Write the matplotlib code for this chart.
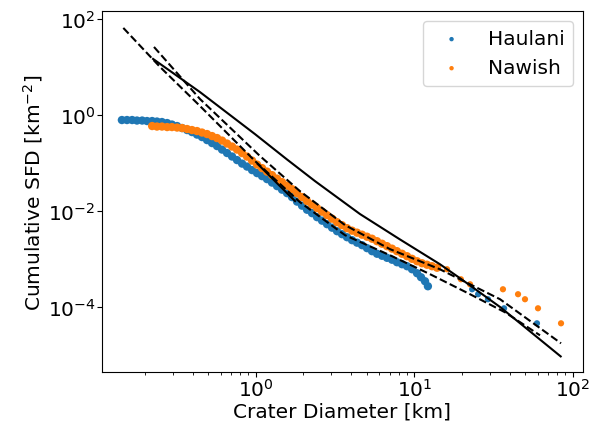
import matplotlib
matplotlib.use("Agg")
import matplotlib.pyplot as plt
from matplotlib.ticker import FixedLocator, NullLocator

# Haulani crater counts (diameter km, cumulative density km^-2)
haulani_d = [0.143, 0.154, 0.166, 0.178, 0.192, 0.206, 0.222, 0.238, 0.256, 0.276,
             0.296, 0.319, 0.343, 0.369, 0.396, 0.426, 0.458, 0.493, 0.530, 0.570,
             0.613, 0.659, 0.709, 0.762, 0.820, 0.881, 0.948, 1.019, 1.096, 1.178,
             1.267, 1.363, 1.465, 1.576, 1.694, 1.822, 1.959, 2.107, 2.265, 2.437,
             2.620, 2.818, 3.030, 3.258, 3.503, 3.767, 4.052, 4.356, 4.685, 5.037,
             5.417, 5.825, 6.264, 6.735, 7.243, 7.78, 8.375, 9.007, 9.685, 10.42,
             11.04, 11.70, 12.2,
             23.2, 25.3, 29.2, 36.9, 59.5]
haulani_n = [0.787, 0.787, 0.787, 0.768, 0.768, 0.750, 0.750, 0.732, 0.715, 0.681,
             0.634, 0.590, 0.536, 0.487, 0.442, 0.392, 0.348, 0.301, 0.261, 0.226,
             0.191, 0.162, 0.137, 0.1155, 0.0976, 0.0846, 0.0715, 0.0619, 0.0536, 0.0464,
             0.0393, 0.0332, 0.0280, 0.0237, 0.0196, 0.0158, 0.0130, 0.0107, 9.09e-3, 7.50e-3,
             6.34e-3, 5.36e-3, 4.53e-3, 3.83e-3, 3.32e-3, 2.87e-3, 2.49e-3, 2.21e-3, 1.96e-3, 1.70e-3,
             1.47e-3, 1.30e-3, 1.18e-3, 1.07e-3, 9.76e-4, 8.66e-4, 7.87e-4, 7.15e-4, 6.19e-4, 5.11e-4,
             4.22e-4, 3.48e-4, 2.74e-4,
             2.37e-4, 1.87e-4, 1.47e-4, 9.53e-5, 4.64e-5]

# Nawish crater counts
nawish_d = [0.222, 0.238, 0.256, 0.276, 0.296, 0.319, 0.343, 0.369, 0.396, 0.426,
            0.458, 0.493, 0.530, 0.570, 0.613, 0.659, 0.709, 0.762, 0.820, 0.881,
            0.948, 1.019, 1.096, 1.178, 1.267, 1.363, 1.465, 1.576, 1.694, 1.822,
            1.959, 2.107, 2.265, 2.437, 2.620, 2.818, 3.030, 3.258, 3.503, 3.767,
            4.052, 4.356, 4.685, 5.037, 5.417, 5.825, 6.264, 6.735, 7.243, 7.78,
            8.375, 9.007, 9.685, 10.42, 11.20, 12.04, 12.95, 13.93,
            16.1, 19.7, 22.5, 36.3, 45.2, 50.0, 60.4, 84.4]
nawish_n = [0.590, 0.576, 0.576, 0.562, 0.562, 0.549, 0.536, 0.511, 0.487, 0.464,
            0.432, 0.402, 0.365, 0.332, 0.294, 0.255, 0.221, 0.191, 0.1615, 0.1366,
            0.1128, 0.0931, 0.0787, 0.0665, 0.0562, 0.0475, 0.0402, 0.0340, 0.0287, 0.0237,
            0.0196, 0.0162, 0.0137, 0.01155, 9.76e-3, 8.25e-3, 6.98e-3, 5.90e-3, 5.11e-3, 4.42e-3,
            3.93e-3, 3.57e-3, 3.24e-3, 2.94e-3, 2.67e-3, 2.37e-3, 2.10e-3, 1.87e-3, 1.66e-3, 1.47e-3,
            1.30e-3, 1.155e-3, 1.02e-3, 9.08e-4, 8.25e-4, 7.68e-4, 7.15e-4, 6.65e-4,
            6.19e-4, 3.83e-4, 3.01e-4, 2.37e-4, 1.87e-4, 1.47e-4, 9.53e-5, 4.64e-5]

# model curves (black)
solid_d = [0.225, 0.445, 0.99, 1.57, 2.37, 4.55, 8.1, 14.5, 19.5, 35, 84]
solid_n = [14.7, 3.0, 0.40, 0.12, 0.042, 0.0087, 0.0026, 7.9e-4, 4.0e-4, 1.0e-4, 9.5e-6]

dashed_a_d = [0.146, 0.249, 0.445, 0.99, 1.90, 3.66, 7.03, 12.6, 22.5, 37.4, 62.2]
dashed_a_n = [64.9, 10.0, 1.54, 0.110, 0.0154, 3.16e-3, 1.21e-3, 4.87e-4, 1.87e-4, 7.87e-5, 2.61e-5]

dashed_b_d = [0.228, 0.445, 1.064, 1.90, 3.66, 7.03, 14.5, 34.8, 84.4]
dashed_b_n = [26.1, 2.15, 0.140, 0.0261, 5.12e-3, 1.62e-3, 6.19e-4, 1.47e-4, 1.78e-5]

fit_d = [1.03, 1.77]
fit_n = [0.0953, 0.0162]

y_ticks = [1e-4, 1e-2, 1e0, 1e2]

plt.rcParams["font.size"] = 14.5

fig = plt.figure(figsize=(5.97, 4.27), dpi=100)
ax = fig.add_axes([0.1704, 0.1272, 0.8056, 0.844])

# dense part of each count drawn a bit bigger so it reads as a band
h_sizes = [36 if d < 13 else 20 for d in haulani_d]
n_sizes = [36 if d < 14 else 20 for d in nawish_d]
ax.scatter(haulani_d, haulani_n, s=h_sizes, color="C0", edgecolors="none", label="Haulani")
ax.scatter(nawish_d, nawish_n, s=n_sizes, color="C1", edgecolors="none", label="Nawish")

ax.plot(solid_d, solid_n, color="k", linestyle="-")
ax.plot(dashed_a_d, dashed_a_n, color="k", linestyle="--")
ax.plot(dashed_b_d, dashed_b_n, color="k", linestyle="--")
ax.plot(fit_d, fit_n, color="k", linestyle="-")

ax.set_xscale("log")
ax.set_yscale("log")
ax.set_xlim(0.1067, 115.6)
ax.set_ylim(4.57e-6, 144)
ax.yaxis.set_major_locator(FixedLocator(y_ticks))
ax.yaxis.set_minor_locator(NullLocator())
ax.tick_params(which="major", pad=1.0)
ax.set_xlabel("Crater Diameter [km]", labelpad=1)
ax.set_ylabel("Cumulative SFD [km$^{-2}$]", labelpad=2)
ax.legend(loc="upper right", markerscale=0.6)

fig.savefig("out.png", dpi=100)
